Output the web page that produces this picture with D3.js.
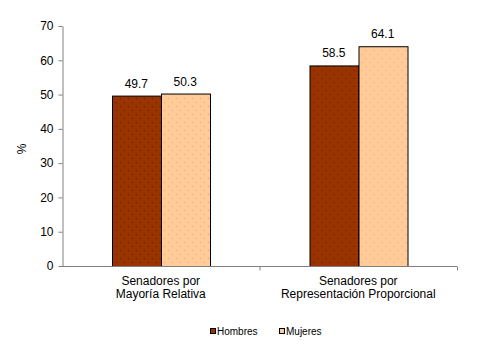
<!DOCTYPE html>
<html>
<head>
<meta charset="utf-8">
<script src="https://cdn.jsdelivr.net/npm/d3@7"></script>
<style>
  html, body { margin: 0; padding: 0; background: #fff; }
  svg text { font-family: "Liberation Sans", Arial, sans-serif; fill: #000; }
</style>
</head>
<body>
<svg id="chart" width="494" height="350"></svg>
<script>
// Senadores por tipo de elección, porcentaje por sexo
const categories = [["Senadores por", "Mayoría Relativa"], ["Senadores por", "Representación Proporcional"]];
const seriesNames = ["Hombres", "Mujeres"];
const hombres = [49.7, 58.5];
const mujeres = [50.3, 64.1];
const yTicks = [0, 10, 20, 30, 40, 50, 60, 70];

const seriesValues = [hombres, mujeres];
const fills = ["#993300", "#FFCC99"];
const dots = ["#5a1a00", "#f0a060"];

const svg = d3.select("#chart");
const margin = { left: 62, right: 37, top: 26, bottom: 84 };
const W = 494, H = 350;
const x0 = margin.left, x1 = W - margin.right;
const yTop = margin.top, yBot = H - margin.bottom;

// dotted fill patterns
const defs = svg.append("defs");
fills.forEach((c, i) => {
  const p = defs.append("pattern")
    .attr("id", "pat" + i)
    .attr("patternUnits", "userSpaceOnUse")
    .attr("width", 8).attr("height", 8);
  p.append("rect").attr("width", 8).attr("height", 8).attr("fill", c);
  p.append("rect").attr("x", 2).attr("y", 2).attr("width", 1).attr("height", 1).attr("fill", dots[i]);
  p.append("rect").attr("x", 6).attr("y", 6).attr("width", 1).attr("height", 1).attr("fill", dots[i]);
});

const x = d3.scaleBand().domain(d3.range(categories.length)).range([x0, x1]).paddingInner(0).paddingOuter(0);
const xs = d3.scaleBand().domain(d3.range(seriesNames.length)).range([0, x.bandwidth()]).paddingInner(0).paddingOuter(1.02);
const y = d3.scaleLinear().domain([0, 70]).range([yBot, yTop]);

// y axis
const yAxis = svg.append("g")
  .attr("transform", `translate(${x0 + 0.5},0)`)
  .call(d3.axisLeft(y).tickValues(yTicks).tickSize(4).tickPadding(5).tickSizeOuter(0));
yAxis.select(".domain").attr("stroke", "#808080");
yAxis.selectAll(".tick line").attr("stroke", "#808080");
yAxis.selectAll(".tick text").attr("font-size", 12);

// axis title
svg.append("text")
  .attr("transform", `translate(26,${(yTop + yBot) / 2 + 3}) rotate(-90)`)
  .attr("text-anchor", "middle")
  .attr("font-size", 12)
  .text("%");

// bars
const groups = svg.append("g").selectAll("g")
  .data(categories.map((c, i) => i))
  .join("g")
  .attr("transform", i => `translate(${x(i)},0)`);

groups.selectAll("rect")
  .data(i => seriesValues.map((vals, s) => ({ s, v: vals[i] })))
  .join("rect")
  .attr("x", d => Math.round(xs(d.s)) + 0.5)
  .attr("y", d => y(d.v) + 0.5)
  .attr("width", Math.round(xs.bandwidth()))
  .attr("height", d => yBot - y(d.v))
  .attr("fill", d => `url(#pat${d.s})`)
  .attr("stroke", "#000")
  .attr("stroke-width", 1);

groups.selectAll("text.val")
  .data(i => seriesValues.map((vals, s) => ({ s, v: vals[i] })))
  .join("text")
  .attr("class", "val")
  .attr("x", d => xs(d.s) + xs.bandwidth() / 2)
  .attr("y", d => y(d.v) - 8)
  .attr("text-anchor", "middle")
  .attr("font-size", 12)
  .text(d => d.v.toFixed(1));

// x axis
const xAxisG = svg.append("g").attr("transform", `translate(0,${yBot + 0.5})`);
xAxisG.append("line")
  .attr("x1", x0).attr("x2", x1)
  .attr("stroke", "#808080");
const bounds = d3.range(categories.length + 1).map(i => i < categories.length ? x(i) : x1);
xAxisG.selectAll("line.tk")
  .data(bounds.slice(1))
  .join("line")
  .attr("class", "tk")
  .attr("x1", d => d + 0.5).attr("x2", d => d + 0.5)
  .attr("y1", 0).attr("y2", 4)
  .attr("stroke", "#808080");

// category labels
const catLabels = svg.append("g").selectAll("text")
  .data(categories.map((c, i) => ({ c, i })))
  .join("text")
  .attr("text-anchor", "middle")
  .attr("font-size", 12)
  .attr("transform", d => `translate(${x(d.i) + x.bandwidth() / 2},${yBot + 19})`);
catLabels.selectAll("tspan")
  .data(d => d.c)
  .join("tspan")
  .attr("x", 0)
  .attr("dy", (d, j) => j === 0 ? 0 : 13)
  .text(d => d);

// legend
const legendX = [210, 279];
const legend = svg.append("g").selectAll("g")
  .data(seriesNames.map((n, i) => ({ n, i })))
  .join("g")
  .attr("transform", d => `translate(${legendX[d.i]},328)`);
legend.append("rect")
  .attr("x", 0.5).attr("y", 0.5)
  .attr("width", 5).attr("height", 5)
  .attr("fill", d => fills[d.i])
  .attr("stroke", "#000");
legend.append("text")
  .attr("x", 7).attr("y", 7)
  .attr("font-size", 10)
  .text(d => d.n);
</script>
</body>
</html>
